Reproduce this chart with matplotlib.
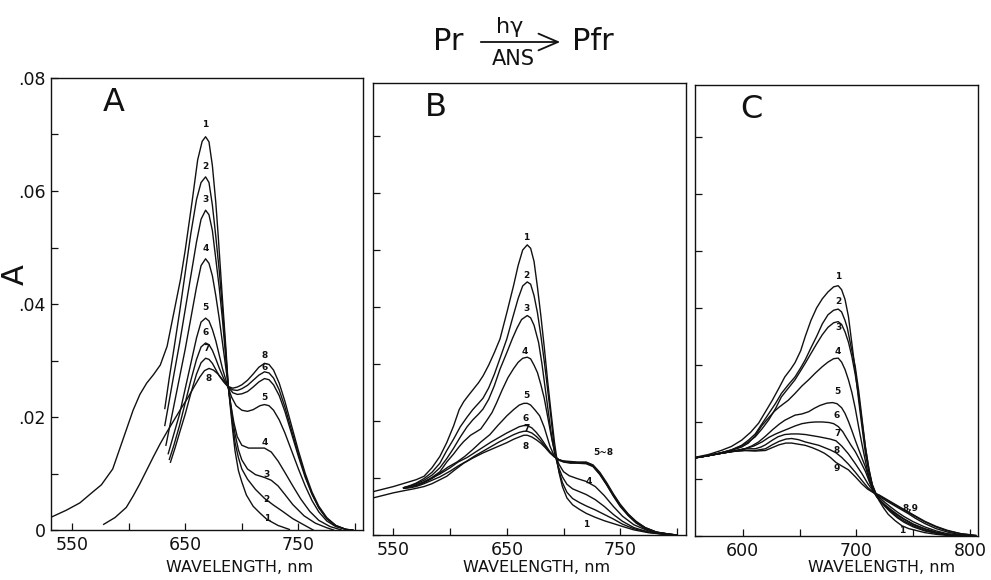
import matplotlib
matplotlib.use("Agg")
import matplotlib.pyplot as plt
import numpy as np

plt.rcParams['font.family'] = ['DejaVu Sans']

# ---------------- Panel A data ----------------
A1_wl = [532, 545, 557, 567, 576, 586, 595, 604, 610, 616, 622, 628, 634, 641, 646, 650, 656, 661, 665, 668, 671, 674, 677, 679, 683, 686, 688, 690, 692, 694, 697, 700, 704, 710, 716, 722, 732, 742]
A1_v = [.0023, .0035, .0048, .0065, .0080, .0108, .0160, .0212, .0240, .0260, .0275, .0292, .0325, .0395, .0445, .0495, .0580, .0655, .0688, .0696, .0687, .0645, .0580, .0525, .0405, .0320, .0255, .0215, .0175, .0140, .0105, .0085, .0062, .0042, .0030, .0019, .0008, .0001]

A2_wl = [632, 636, 640, 645, 650, 655, 660, 664, 668, 671, 674, 677, 680, 683, 686, 688, 690, 692, 694, 697, 700, 705, 712, 720, 728, 736, 745, 754, 763]
A2_v = [.0215, .0270, .0320, .0385, .0455, .0525, .0585, .0615, .0625, .0615, .0575, .0520, .0460, .0390, .0310, .0255, .0220, .0185, .0155, .0128, .0108, .0090, .0072, .0056, .0044, .0033, .0020, .0010, .0]

A3_wl = [632, 636, 640, 645, 650, 655, 660, 664, 668, 671, 674, 677, 680, 683, 686, 688, 690, 692, 694, 697, 700, 705, 712, 720, 726, 732, 738, 745, 755, 765, 775, 781]
A3_v = [.0185, .0230, .0275, .0330, .0390, .0450, .0510, .0550, .0566, .0558, .0530, .0480, .0430, .0370, .0300, .0255, .0225, .0195, .0170, .0142, .0124, .0108, .0098, .0093, .0088, .0078, .0063, .0045, .0025, .0012, .0004, .0]

A4_wl = [633, 637, 641, 645, 650, 655, 660, 664, 668, 671, 674, 677, 680, 683, 686, 688, 690, 693, 696, 700, 706, 714, 720, 726, 732, 738, 745, 752, 760, 768, 778, 788]
A4_v = [.0150, .0190, .0230, .0270, .0320, .0375, .0430, .0468, .0480, .0472, .0450, .0415, .0375, .0330, .0285, .0255, .0225, .0190, .0165, .0150, .0145, .0145, .0145, .0138, .0122, .0102, .0078, .0055, .0033, .0017, .0006, .0]

A5_wl = [635, 640, 645, 650, 655, 660, 664, 668, 671, 674, 677, 680, 683, 686, 688, 691, 695, 700, 705, 710, 716, 720, 724, 728, 733, 738, 744, 750, 756, 762, 768, 775, 783, 792, 797]
A5_v = [.0135, .0170, .0205, .0250, .0295, .0340, .0368, .0375, .0370, .0355, .0335, .0310, .0285, .0265, .0252, .0235, .0220, .0212, .0210, .0213, .0220, .0222, .0220, .0212, .0195, .0172, .0140, .0108, .0078, .0052, .0032, .0016, .0006, .0001, .0]

A6_wl = [636, 640, 645, 650, 655, 660, 664, 668, 671, 674, 677, 680, 684, 688, 692, 696, 700, 705, 710, 715, 720, 724, 728, 733, 738, 744, 750, 756, 762, 768, 775, 783, 792, 798]
A6_v = [.0125, .0150, .0185, .0225, .0265, .0302, .0324, .0331, .0328, .0318, .0303, .0287, .0268, .0253, .0243, .0240, .0241, .0245, .0253, .0262, .0268, .0266, .0257, .0238, .0210, .0170, .0130, .0093, .0063, .0039, .0020, .0007, .0001, .0]

A7_wl = [637, 641, 645, 650, 655, 660, 664, 668, 671, 674, 677, 680, 684, 688, 692, 696, 700, 705, 710, 715, 720, 724, 728, 733, 738, 744, 750, 756, 762, 768, 775, 783, 792, 798]
A7_v = [.0120, .0145, .0172, .0205, .0242, .0276, .0296, .0304, .0302, .0295, .0284, .0273, .0262, .0253, .0248, .0247, .0250, .0256, .0265, .0274, .0280, .0278, .0269, .0248, .0218, .0176, .0134, .0096, .0064, .0040, .0020, .0008, .0001, .0]

A8_wl = [578, 588, 598, 604, 610, 616, 622, 628, 634, 640, 646, 652, 658, 663, 667, 671, 675, 679, 683, 688, 692, 696, 700, 705, 710, 715, 720, 724, 728, 733, 738, 744, 750, 756, 762, 768, 775, 783, 792, 798]
A8_v = [.0010, .0022, .0040, .0060, .0082, .0106, .0130, .0153, .0174, .0194, .0214, .0233, .0254, .0271, .0282, .0286, .0283, .0276, .0266, .0254, .0251, .0253, .0257, .0265, .0276, .0288, .0295, .0293, .0283, .0260, .0228, .0184, .0140, .0100, .0067, .0042, .0022, .0008, .0001, .0]

# ---------------- Panel B data ----------------
B1_wl = [532, 540, 550, 560, 570, 577, 584, 591, 597, 603, 608, 612, 617, 621, 625, 629, 634, 639, 644, 650, 656, 660, 664, 668, 671, 674, 677, 680, 683, 686, 689, 692, 694, 696, 699, 703, 708, 714, 720, 728, 736, 744, 752, 762, 775, 790, 800]
B1_v = [.0076, .0080, .0085, .0091, .0097, .0103, .0118, .0138, .0162, .0191, .0220, .0234, .0247, .0257, .0267, .0279, .0298, .0320, .0344, .0390, .0438, .0473, .0500, .0509, .0503, .0480, .0435, .0385, .0330, .0270, .0215, .0163, .0135, .0110, .0085, .0065, .0053, .0045, .0038, .0031, .0025, .0020, .0015, .0009, .0004, .0001, .0]

B2_wl = [559, 565, 570, 577, 584, 591, 597, 603, 609, 615, 620, 625, 629, 634, 639, 644, 650, 655, 660, 664, 668, 671, 674, 677, 680, 683, 686, 689, 692, 694, 696, 699, 703, 708, 714, 720, 728, 736, 744, 752, 762, 775, 790, 800]
B2_v = [.0083, .0087, .0091, .0099, .0110, .0126, .0148, .0168, .0190, .0207, .0220, .0231, .0240, .0258, .0282, .0310, .0344, .0380, .0415, .0437, .0444, .0440, .0420, .0390, .0350, .0305, .0255, .0205, .0150, .0130, .0112, .0092, .0075, .0064, .0057, .0051, .0044, .0036, .0028, .0019, .0011, .0005, .0001, .0]

B3_wl = [559, 565, 570, 577, 584, 591, 597, 603, 609, 615, 620, 625, 629, 634, 639, 644, 650, 655, 659, 663, 668, 671, 674, 678, 681, 685, 689, 692, 695, 699, 703, 708, 714, 720, 728, 736, 744, 752, 762, 775, 790, 800]
B3_v = [.0083, .0086, .0090, .0096, .0105, .0118, .0134, .0152, .0172, .0190, .0202, .0212, .0221, .0238, .0262, .0291, .0320, .0345, .0363, .0378, .0385, .0381, .0368, .0338, .0300, .0240, .0180, .0145, .0122, .0102, .0089, .0081, .0076, .0071, .0062, .0050, .0036, .0024, .0013, .0005, .0001, .0]

B4_wl = [559, 565, 570, 577, 584, 591, 597, 603, 608, 612, 618, 623, 627, 632, 637, 641, 646, 651, 656, 660, 664, 668, 671, 674, 677, 680, 683, 687, 690, 693, 696, 700, 705, 712, 720, 728, 736, 744, 752, 762, 775, 790, 800]
B4_v = [.0083, .0085, .0088, .0093, .0101, .0111, .0128, .0142, .0155, .0164, .0175, .0181, .0186, .0200, .0215, .0232, .0255, .0276, .0292, .0303, .0310, .0312, .0309, .0298, .0285, .0264, .0240, .0197, .0165, .0140, .0124, .0111, .0104, .0099, .0094, .0085, .0069, .0050, .0033, .0018, .0007, .0002, .0]

B5_wl = [559, 565, 570, 577, 584, 591, 598, 606, 613, 620, 627, 635, 642, 650, 656, 661, 665, 668, 671, 675, 679, 683, 688, 692, 696, 700, 706, 712, 720, 726, 732, 738, 744, 750, 757, 764, 772, 782, 795, 800]
B5_v = [.0082, .0084, .0087, .0092, .0099, .0109, .0119, .0128, .0138, .0150, .0163, .0176, .0192, .0209, .0220, .0228, .0231, .0231, .0228, .0219, .0209, .0189, .0156, .0138, .0131, .0128, .0126, .0126, .0125, .0120, .0106, .0088, .0068, .0050, .0034, .0021, .0011, .0004, .0001, .0]

B6_wl = [559, 565, 570, 577, 584, 591, 600, 607, 615, 622, 629, 636, 643, 650, 656, 661, 665, 668, 672, 676, 680, 684, 688, 692, 696, 700, 706, 712, 720, 726, 732, 738, 744, 750, 757, 764, 772, 782, 795, 800]
B6_v = [.0082, .0084, .0087, .0093, .0100, .0107, .0118, .0128, .0136, .0145, .0154, .0163, .0171, .0179, .0185, .0190, .0192, .0192, .0188, .0180, .0170, .0158, .0146, .0138, .0132, .0129, .0127, .0127, .0126, .0121, .0107, .0089, .0069, .0051, .0035, .0022, .0012, .0005, .0001, .0]

B7_wl = [559, 565, 570, 577, 584, 591, 600, 607, 615, 622, 629, 636, 643, 650, 656, 661, 665, 668, 672, 676, 680, 684, 688, 692, 696, 700, 706, 712, 720, 726, 732, 738, 744, 750, 757, 764, 772, 782, 795, 800]
B7_v = [.0082, .0083, .0085, .0090, .0096, .0102, .0112, .0121, .0130, .0139, .0147, .0155, .0163, .0170, .0176, .0180, .0182, .0182, .0179, .0173, .0165, .0155, .0145, .0137, .0132, .0129, .0128, .0127, .0127, .0122, .0108, .0090, .0070, .0052, .0036, .0023, .0013, .0005, .0001, .0]

B8_wl = [532, 540, 550, 560, 568, 577, 584, 591, 597, 604, 612, 620, 629, 636, 643, 650, 656, 661, 665, 668, 672, 676, 680, 684, 688, 692, 696, 700, 706, 712, 720, 726, 732, 738, 744, 750, 757, 764, 772, 782, 795, 800]
B8_v = [.0065, .0069, .0074, .0078, .0081, .0085, .0090, .0097, .0103, .0114, .0126, .0135, .0144, .0150, .0156, .0162, .0168, .0172, .0175, .0175, .0172, .0167, .0161, .0153, .0144, .0137, .0132, .0130, .0129, .0128, .0128, .0123, .0110, .0092, .0072, .0054, .0037, .0024, .0013, .0005, .0001, .0]

# ---------------- Panel C data ----------------
C1_wl = [558, 570, 581, 590, 599, 607, 614, 620, 626, 632, 637, 642, 646, 651, 655, 660, 665, 670, 675, 680, 684, 687, 690, 693, 696, 699, 702, 705, 708, 711, 714, 717, 720, 724, 728, 734, 740, 746, 752, 760, 770, 780, 790]
C1_v = [.0138, .0143, .0150, .0157, .0168, .0182, .0198, .0218, .0238, .0260, .0279, .0292, .0304, .0325, .0350, .0378, .0400, .0416, .0428, .0437, .0439, .0432, .0415, .0385, .0338, .0290, .0238, .0190, .0144, .0112, .0090, .0075, .0062, .0049, .0038, .0027, .0018, .0013, .0010, .0006, .0003, .0001, .0]

C2_wl = [558, 570, 581, 590, 599, 605, 611, 617, 623, 629, 634, 640, 646, 651, 655, 660, 665, 670, 675, 680, 684, 687, 690, 692, 695, 699, 702, 705, 708, 711, 714, 717, 720, 725, 730, 736, 742, 750, 760, 770, 780, 795]
C2_v = [.0137, .0141, .0146, .0151, .0159, .0168, .0179, .0197, .0215, .0233, .0250, .0265, .0279, .0295, .0309, .0330, .0350, .0372, .0388, .0396, .0398, .0393, .0378, .0365, .0335, .0297, .0255, .0205, .0155, .0117, .0088, .0074, .0064, .0052, .0042, .0032, .0024, .0016, .0009, .0005, .0002, .0]

C3_wl = [558, 570, 581, 590, 599, 605, 611, 617, 623, 629, 634, 640, 646, 651, 655, 660, 665, 670, 675, 680, 684, 687, 690, 693, 696, 699, 702, 705, 708, 711, 714, 717, 720, 725, 730, 736, 742, 750, 760, 770, 780, 795]
C3_v = [.0137, .0141, .0146, .0151, .0158, .0165, .0174, .0188, .0204, .0224, .0244, .0259, .0274, .0290, .0303, .0320, .0337, .0353, .0366, .0374, .0376, .0371, .0358, .0340, .0315, .0283, .0245, .0200, .0155, .0118, .0090, .0075, .0065, .0054, .0044, .0034, .0026, .0018, .0010, .0005, .0002, .0]

C4_wl = [558, 570, 581, 590, 599, 605, 611, 617, 623, 628, 632, 640, 646, 652, 658, 664, 670, 675, 680, 684, 687, 690, 693, 696, 699, 702, 705, 709, 712, 715, 718, 722, 728, 735, 742, 750, 760, 770, 780, 795]
C4_v = [.0137, .0141, .0146, .0150, .0156, .0163, .0176, .0194, .0208, .0219, .0226, .0238, .0250, .0263, .0274, .0286, .0297, .0305, .0311, .0312, .0305, .0292, .0274, .0252, .0224, .0191, .0160, .0121, .0096, .0078, .0068, .0059, .0048, .0038, .0029, .0020, .0012, .0006, .0003, .0]

C5_wl = [558, 570, 581, 590, 602, 608, 614, 620, 626, 632, 637, 642, 646, 652, 658, 663, 668, 674, 679, 683, 687, 690, 693, 696, 699, 702, 705, 708, 711, 714, 717, 720, 725, 730, 736, 742, 750, 760, 770, 780, 795, 805]
C5_v = [.0137, .0141, .0145, .0148, .0153, .0158, .0165, .0175, .0186, .0196, .0203, .0208, .0212, .0214, .0218, .0224, .0229, .0233, .0234, .0232, .0225, .0215, .0201, .0185, .0168, .0152, .0136, .0121, .0101, .0083, .0072, .0064, .0055, .0047, .0038, .0030, .0021, .0013, .0007, .0003, .0001, .0]

C6_wl = [558, 570, 581, 590, 602, 610, 617, 623, 629, 635, 640, 646, 652, 658, 664, 670, 676, 680, 684, 688, 691, 695, 699, 703, 708, 712, 716, 720, 725, 730, 736, 742, 750, 760, 770, 780, 795, 805]
C6_v = [.0137, .0141, .0145, .0148, .0153, .0158, .0165, .0173, .0179, .0184, .0188, .0193, .0197, .0199, .0200, .0200, .0199, .0197, .0192, .0183, .0173, .0160, .0148, .0133, .0113, .0092, .0077, .0068, .0059, .0051, .0042, .0034, .0025, .0016, .0009, .0004, .0001, .0]

C7_wl = [558, 570, 581, 590, 602, 611, 616, 620, 626, 631, 637, 643, 649, 655, 661, 667, 672, 677, 682, 687, 693, 699, 705, 710, 715, 720, 726, 732, 738, 745, 752, 760, 770, 780, 792, 805]
C7_v = [.0137, .0141, .0145, .0148, .0153, .0153, .0156, .0160, .0168, .0174, .0178, .0179, .0179, .0178, .0176, .0174, .0172, .0170, .0167, .0158, .0144, .0127, .0109, .0092, .0078, .0070, .0062, .0055, .0048, .0040, .0031, .0022, .0013, .0007, .0002, .0]

C8_wl = [558, 570, 581, 590, 602, 611, 620, 626, 632, 638, 643, 649, 655, 661, 667, 672, 677, 682, 687, 693, 699, 705, 710, 715, 720, 726, 732, 738, 745, 752, 760, 770, 780, 792, 805]
C8_v = [.0137, .0141, .0145, .0148, .0150, .0150, .0153, .0160, .0166, .0170, .0171, .0169, .0165, .0162, .0159, .0155, .0151, .0146, .0138, .0126, .0112, .0097, .0085, .0076, .0071, .0064, .0057, .0050, .0042, .0034, .0025, .0016, .0009, .0004, .0001]

C9_wl = [558, 570, 581, 590, 602, 611, 620, 626, 632, 638, 643, 649, 655, 661, 667, 672, 677, 682, 687, 693, 699, 705, 710, 715, 720, 726, 732, 738, 745, 752, 760, 770, 780, 792, 805]
C9_v = [.0137, .0141, .0145, .0148, .0150, .0149, .0150, .0155, .0160, .0163, .0163, .0161, .0159, .0155, .0150, .0145, .0138, .0129, .0123, .0116, .0104, .0091, .0082, .0076, .0072, .0065, .0058, .0051, .0043, .0035, .0026, .0017, .0010, .0004, .0001]

A_curves = [(A1_wl, A1_v), (A2_wl, A2_v), (A3_wl, A3_v), (A4_wl, A4_v),
            (A5_wl, A5_v), (A6_wl, A6_v), (A7_wl, A7_v), (A8_wl, A8_v)]
B_curves = [(B1_wl, B1_v), (B2_wl, B2_v), (B3_wl, B3_v), (B4_wl, B4_v),
            (B5_wl, B5_v), (B6_wl, B6_v), (B7_wl, B7_v), (B8_wl, B8_v)]
C_curves = [(C1_wl, C1_v), (C2_wl, C2_v), (C3_wl, C3_v), (C4_wl, C4_v), (C5_wl, C5_v),
            (C6_wl, C6_v), (C7_wl, C7_v), (C8_wl, C8_v), (C9_wl, C9_v)]

# curve labels (text, wavelength, absorbance)
A_labels = [("1", 668, .0718), ("2", 668, .0643), ("3", 668, .0585), ("4", 668, .0498),
            ("5", 668, .0393), ("6", 668, .0349), ("7", 669, .0321), ("8", 671, .0268),
            ("8", 720, .0308), ("6", 720, .0288), ("5", 720, .0235), ("4", 720, .0155),
            ("3", 722, .0098), ("2", 722, .0054), ("1", 722, .0021)]
B_labels = [("1", 667, .0522), ("2", 667, .0455), ("3", 667, .0398), ("4", 666, .0322),
            ("5", 667, .0244), ("6", 667, .0204), ("7", 667, .0186), ("8", 667, .0155),
            ("5~8", 735, .0144), ("4", 722, .0093), ("1", 720, .0018)]
C_labels = [("1", 684, .0456), ("2", 684, .0412), ("3", 684, .0365), ("4", 684, .0324),
            ("5", 683, .0253), ("6", 683, .0212), ("7", 683, .0180), ("8", 683, .0150),
            ("9", 683, .0118), ("8,9", 748, .0048), ("1", 740, .0009)]

W, H = 991, 580
fig = plt.figure(figsize=(W / 100, H / 100), dpi=100)


def rect(l, t, r, b):
    return [l / W, 1 - b / H, (r - l) / W, (b - t) / H]


def style(ax, xlim, ylim, xmaj, xmin, ylabels):
    ax.set_xlim(*xlim)
    ax.set_ylim(*ylim)
    ax.set_xticks(xmaj)
    ax.set_xticks(xmin, minor=True)
    ax.set_xticklabels([str(v) for v in xmaj])
    ax.set_yticks([0, .02, .04, .06, .08][:5 if ylim[1] >= .08 else 4])
    ax.set_yticks([.01, .03, .05, .07], minor=True)
    if ylabels:
        ax.set_yticklabels(['0', '.02', '.04', '.06', '.08'])
    else:
        ax.set_yticklabels([])
    ax.tick_params(which='both', direction='in', length=5, width=0.9,
                   top=False, right=False, labelsize=12.5, pad=4, colors='#111111')
    for s in ax.spines.values():
        s.set_linewidth(1.0)
        s.set_color('#111111')


def draw(ax, curves, labels):
    for wl, v in curves:
        ax.plot(wl, v, color='#111111', lw=1.0)
    for t, x, y in labels:
        ax.text(x, y, t, fontsize=6.5, fontweight='bold', ha='center', va='center', color='#111111')


axA = fig.add_axes(rect(51, 78, 363, 530))
style(axA, (531.5, 807), (0, 0.08), [550, 650, 750], [600, 700, 800], True)
draw(axA, A_curves, A_labels)

axB = fig.add_axes(rect(373, 83, 686, 535))
style(axB, (532, 808), (0, 0.0793), [550, 650, 750], [600, 700, 800], False)
draw(axB, B_curves, B_labels)

axC = fig.add_axes(rect(695, 85, 978, 536))
style(axC, (558, 807), (0, 0.0791), [600, 700, 800], [650, 750], False)
draw(axC, C_curves, C_labels)

# panel letters
for ax, letter in [(axA, 'A'), (axB, 'B'), (axC, 'C')]:
    ax.text(0.2, 0.945, letter, transform=ax.transAxes, fontsize=23,
            ha='center', va='center', color='#111111')

# x axis labels
for cx in [240, 537, 882]:
    fig.text(cx / W, 1 - 567 / H, 'WAVELENGTH, nm', fontsize=11.5,
             ha='center', va='center', color='#111111')

# y axis label
fig.text(15 / W, 1 - 275 / H, 'A', fontsize=22, rotation=90,
         ha='center', va='center', color='#111111')

# title: Pr --hv/ANS--> Pfr
fig.text(433 / W, 1 - 41 / H, 'Pr', fontsize=22, ha='left', va='center', color='#111111')
fig.text(572 / W, 1 - 41 / H, 'Pfr', fontsize=22, ha='left', va='center', color='#111111')
fig.text(510 / W, 1 - 27 / H, 'hγ', fontsize=16, ha='center', va='center', color='#111111')
fig.text(513 / W, 1 - 59 / H, 'ANS', fontsize=15, ha='center', va='center', color='#111111')
fig.patches.append(matplotlib.patches.FancyArrowPatch(
    (478 / W, 1 - 42 / H), (563 / W, 1 - 42 / H), transform=fig.transFigure,
    arrowstyle='->,head_length=0.7,head_width=0.3', mutation_scale=20,
    lw=1.3, color='#111111'))

fig.savefig('out.png', dpi=100)
